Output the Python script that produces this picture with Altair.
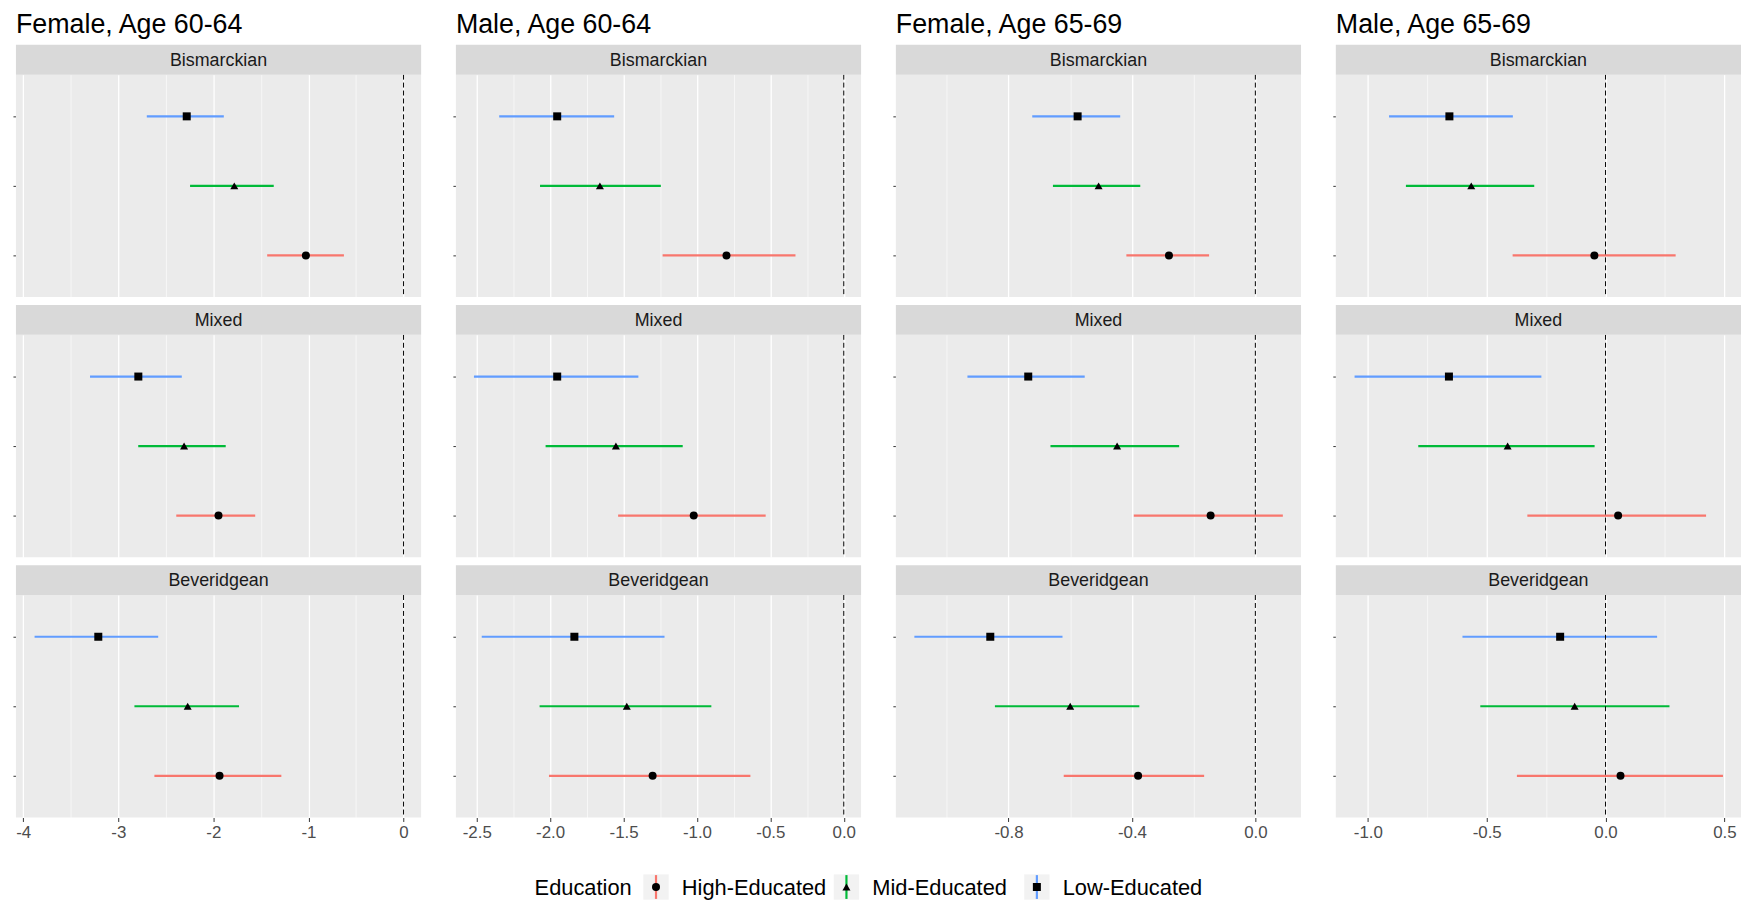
import altair as alt
import pandas as pd

regimes = ["Bismarckian", "Mixed", "Beveridgean"]
edu_levels = ["Low-Educated", "Mid-Educated", "High-Educated"]  # top to bottom in each panel
legend_order = ["High-Educated", "Mid-Educated", "Low-Educated"]
edu_colors = ["#F8766D", "#00BA38", "#619CFF"]
edu_shapes = ["circle", "triangle-up", "square"]

panel_titles = ["Female, Age 60-64", "Male, Age 60-64", "Female, Age 65-69", "Male, Age 65-69"]

# rows = regimes (Bismarckian, Mixed, Beveridgean); cols = edu_levels (Low, Mid, High)
f6064_est = [[-2.28, -1.78, -1.027], [-2.789, -2.308, -1.946], [-3.21, -2.27, -1.935]]
f6064_lo = [[-2.70, -2.245, -1.434], [-3.297, -2.79, -2.39], [-3.88, -2.83, -2.62]]
f6064_hi = [[-1.89, -1.365, -0.627], [-2.332, -1.87, -1.56], [-2.58, -1.73, -1.285]]

m6064_est = [[-1.952, -1.661, -0.799], [-1.952, -1.552, -1.022], [-1.835, -1.478, -1.302]]
m6064_lo = [[-2.347, -2.069, -1.234], [-2.519, -2.031, -1.537], [-2.466, -2.072, -2.008]]
m6064_hi = [[-1.564, -1.246, -0.329], [-1.399, -1.097, -0.532], [-1.221, -0.902, -0.636]]

f6569_est = [[-0.576, -0.508, -0.280], [-0.736, -0.448, -0.145], [-0.859, -0.600, -0.380]]
f6569_lo = [[-0.723, -0.656, -0.418], [-0.933, -0.664, -0.394], [-1.105, -0.844, -0.621]]
f6569_hi = [[-0.438, -0.373, -0.150], [-0.553, -0.247, 0.089], [-0.625, -0.376, -0.166]]

m6569_est = [[-0.657, -0.565, -0.047], [-0.659, -0.412, 0.053], [-0.191, -0.130, 0.063]]
m6569_lo = [[-0.911, -0.840, -0.391], [-1.056, -0.788, -0.329], [-0.602, -0.527, -0.373]]
m6569_hi = [[-0.390, -0.300, 0.295], [-0.270, -0.046, 0.423], [0.217, 0.269, 0.494]]

x_domains = [[-4.076, 0.185], [-2.642, 0.118], [-1.165, 0.148], [-1.135, 0.57]]
x_majors = [[-4, -3, -2, -1, 0], [-2.5, -2.0, -1.5, -1.0, -0.5, 0.0], [-0.8, -0.4, 0.0], [-1.0, -0.5, 0.0, 0.5]]
x_minors = [[-3.5, -2.5, -1.5, -0.5], [-2.25, -1.75, -1.25, -0.75, -0.25], [-1.0, -0.6, -0.2], [-0.75, -0.25, 0.25]]
x_formats = [".0f", ".1f", ".1f", ".1f"]

panel_data = [
    (f6064_est, f6064_lo, f6064_hi),
    (m6064_est, m6064_lo, m6064_hi),
    (f6569_est, f6569_lo, f6569_hi),
    (m6569_est, m6569_lo, m6569_hi),
]

W = 408
H = 224
STRIP = 30
FONT = "Liberation Sans"
PT_SIZE = 65
BAR_W = 2.2

color_scale = alt.Scale(domain=legend_order, range=edu_colors)
shape_scale = alt.Scale(domain=legend_order, range=edu_shapes)


def make_df(est, lo, hi):
    rows = []
    for i, reg in enumerate(regimes):
        for j, edu in enumerate(edu_levels):
            rows.append({"regime": reg, "edu": edu, "est": est[i][j], "lo": lo[i][j], "hi": hi[i][j]})
    return pd.DataFrame(rows)


def make_column(k):
    est, lo, hi = panel_data[k]
    df = make_df(est, lo, hi)
    majors = x_majors[k]
    vals = sorted(majors + x_minors[k])
    test = f"indexof({majors}, datum.value) >= 0"
    xaxis = alt.Axis(
        values=vals,
        format=x_formats[k],
        title=None,
        domain=False,
        tickSize=4,
        tickColor="#333333",
        tickOpacity={"condition": {"test": test, "value": 1}, "value": 0},
        gridColor="white",
        gridWidth={"condition": {"test": test, "value": 1.3}, "value": 0.6},
        labelExpr=f"indexof({majors}, datum.value) < 0 ? '' : replace(datum.label, '\u2212', '-')",
        labelFontSize=17,
        labelColor="#4D4D4D",
        labelFont=FONT,
        labelPadding=3,
    )
    xscale = alt.Scale(domain=x_domains[k], nice=False, zero=False)
    yenc = alt.Y(
        "edu:N",
        sort=edu_levels,
        scale=alt.Scale(type="point", domain=edu_levels, padding=0.6),
        axis=alt.Axis(labels=False, title=None, domain=False, ticks=True, tickSize=3,
                      tickColor="#333333", gridColor="white", gridWidth=1.3),
    )

    one = alt.datum.edu == "Low-Educated"
    strip_rect = alt.Chart().mark_rect(color="#D9D9D9").encode(
        x=alt.value(0), x2=alt.value(W), y=alt.value(-STRIP), y2=alt.value(0)
    ).transform_filter(one)
    strip_text = alt.Chart().mark_text(fontSize=18, color="#1A1A1A", font=FONT, baseline="middle").encode(
        text="regime:N", x=alt.value(W / 2), y=alt.value(-STRIP / 2 + 1)
    ).transform_filter(one)
    bars = alt.Chart().mark_rule(strokeWidth=BAR_W).encode(
        x=alt.X("lo:Q", scale=xscale, axis=xaxis),
        x2="hi:Q",
        y=yenc,
        color=alt.Color("edu:N", scale=color_scale, legend=None),
    )
    zero = alt.Chart().mark_rule(color="black", strokeDash=[5, 3], strokeWidth=1).encode(
        x=alt.datum(0)
    ).transform_filter(one)
    pts = alt.Chart().mark_point(filled=True, color="black", opacity=1, size=PT_SIZE).encode(
        x=alt.X("est:Q"),
        y=alt.Y("edu:N", sort=edu_levels),
        shape=alt.Shape("edu:N", scale=shape_scale, legend=None),
    )
    layer = alt.layer(bars, zero, pts, strip_rect, strip_text, data=df).properties(width=W, height=H)
    return layer.facet(
        row=alt.Row("regime:N", sort=regimes, header=alt.Header(labels=False, title=None)),
        spacing=38,
        bounds="flush",
        title=alt.Title(panel_titles[k], anchor="start", frame="group", fontSize=27, font=FONT,
                        fontWeight="normal", color="black", offset=6),
    )


columns = alt.hconcat(*[make_column(k) for k in range(4)], spacing=31)

leg_df = pd.DataFrame({"edu": legend_order})
leg_title_df = pd.DataFrame({"t": ["Education"]})
LW = 1300
LH = 30
xleg = alt.X("edu:N", sort=legend_order,
             scale=alt.Scale(type="point", domain=legend_order, range=[644.5, 1028], padding=0),
             axis=None)
leg_title = alt.Chart(leg_title_df).mark_text(align="right", fontSize=22, font=FONT, color="black",
                                               baseline="middle").encode(
    text="t:N", x=alt.value(620), y=alt.value(LH / 2 + 1)
)
leg_box = alt.Chart(leg_df).mark_square(size=650, color="#F2F2F2", opacity=1).encode(
    x=xleg, y=alt.value(LH / 2)
)
leg_rule = alt.Chart(leg_df).mark_rule(strokeWidth=BAR_W).encode(
    x=xleg, y=alt.value(3), y2=alt.value(LH - 3),
    color=alt.Color("edu:N", scale=color_scale, legend=None)
)
leg_pt = alt.Chart(leg_df).mark_point(filled=True, color="black", opacity=1, size=PT_SIZE).encode(
    x=xleg, y=alt.value(LH / 2), shape=alt.Shape("edu:N", scale=shape_scale, legend=None)
)
leg_text = alt.Chart(leg_df).mark_text(align="left", dx=26, fontSize=22, font=FONT, color="black",
                                       baseline="middle").encode(
    x=xleg, y=alt.value(LH / 2 + 1), text="edu:N"
)
legend = alt.layer(leg_title, leg_box, leg_rule, leg_pt, leg_text).properties(
    width=LW, height=LH, view=alt.ViewBackground(fill="white", stroke=None)
)

chart = alt.vconcat(columns, legend, spacing=32).properties(
    padding={"left": 4, "top": 0, "right": 0, "bottom": 0}
).configure(
    font=FONT, background="white"
).configure_view(fill="#EBEBEB", stroke=None).resolve_scale(color="shared", shape="shared")

chart.save("out.html", embed_options={"renderer": "svg", "actions": False})
